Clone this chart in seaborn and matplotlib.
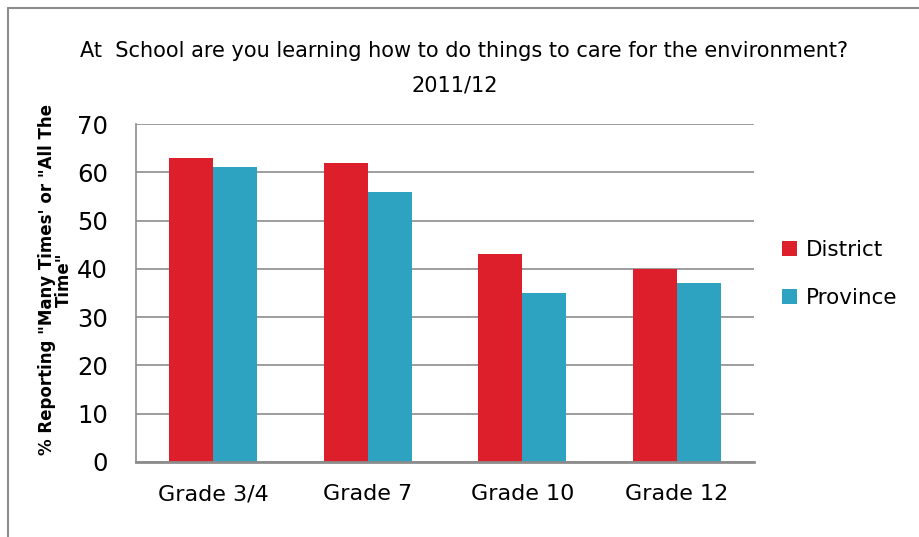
import matplotlib
matplotlib.use("Agg")
import matplotlib.pyplot as plt
import seaborn as sns
import pandas as pd
from matplotlib.lines import Line2D
from matplotlib.patches import Patch

categories = ["Grade 3/4", "Grade 7", "Grade 10", "Grade 12"]
district = [63, 62, 43, 40]
province = [61, 56, 35, 37]
series_names = ["District", "Province"]
colors = ["#DC1F2A", "#2EA3C1"]

df = pd.DataFrame({
    "Grade": categories * 2,
    "Value": district + province,
    "Series": [series_names[0]] * len(categories) + [series_names[1]] * len(categories),
})

sns.set_theme(style="white")
plt.rcParams["font.family"] = ["DejaVu Sans"]
plt.rcParams["text.color"] = "black"
plt.rcParams["xtick.color"] = "black"
plt.rcParams["ytick.color"] = "black"
plt.rcParams["axes.labelcolor"] = "black"

fig = plt.figure(figsize=(9.19, 5.37), dpi=100)
ax = fig.add_axes([0.148, 0.1397, 0.6725, 0.6293])

sns.barplot(data=df, x="Grade", y="Value", hue="Series", palette=colors,
            width=0.57, saturation=1, ax=ax, legend=False, linewidth=0, edgecolor="none")

ax.set_ylim(0, 70)
ax.set_yticks(range(0, 71, 10))
ax.yaxis.grid(True, color="#8C8C8C", linewidth=1.2)
ax.set_axisbelow(True)
ax.set_xlabel("")
ax.set_ylabel('% Reporting "Many Times\' or "All The\nTime"', fontsize=12,
              fontweight="bold", linespacing=0.95)
ax.yaxis.set_label_coords(-0.102, 0.54)
ax.tick_params(axis="y", labelsize=17.5, length=0, pad=20)
ax.tick_params(axis="x", labelsize=16, length=0, pad=16)
for s in ["top", "right"]:
    ax.spines[s].set_visible(False)
ax.spines["left"].set_color("#8C8C8C")
ax.spines["left"].set_linewidth(1.2)
ax.spines["bottom"].set_color("#8C8C8C")
ax.spines["bottom"].set_linewidth(2)

fig.text(0.505, 0.905, "At  School are you learning how to do things to care for the environment?",
         ha="center", va="center", fontsize=15)
fig.text(0.495, 0.84, "2011/12", ha="center", va="center", fontsize=15)

handles = [Patch(facecolor=c, edgecolor="none") for c in colors]
fig.legend(handles, series_names, loc="center left", bbox_to_anchor=(0.83, 0.49),
           frameon=False, fontsize=15.5, handlelength=0.7, handleheight=0.7,
           handletextpad=0.4, labelspacing=1.3)

fig.add_artist(Line2D([8/919, 8/919], [0, 1 - 8/537], color="#8C8C8C", linewidth=1.5,
                      transform=fig.transFigure))
fig.add_artist(Line2D([8/919, 1], [1 - 8/537, 1 - 8/537], color="#8C8C8C", linewidth=1.5,
                      transform=fig.transFigure))

fig.savefig("out.png", dpi=100, facecolor="white")
